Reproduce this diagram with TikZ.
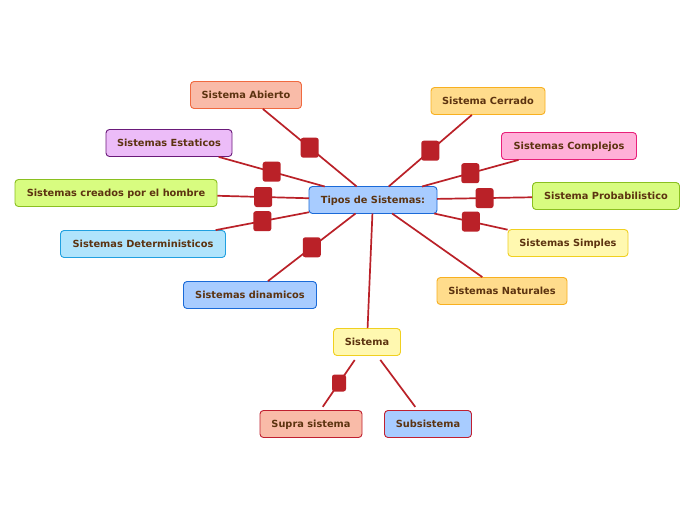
\documentclass[tikz,border=0pt]{standalone}
\usepackage{fontspec}
\setmainfont{DejaVu Sans}
\begin{document}
\begin{tikzpicture}[x=1pt,y=-1pt,
  txt/.style={font=\bfseries\fontsize{9.8}{11}\selectfont, text=brownish, text height=7.2pt, text depth=0pt},
  box/.style={txt, draw, rounded corners=3.5pt, line width=0.9pt, minimum height=27, inner sep=2pt, outer sep=0.4pt},
  conn/.style={draw=connred, line width=1.7pt},
  subconn/.style={conn, shorten <=5pt, shorten >=4pt},
  sq/.style={fill=connred, draw=none, rounded corners=2.5pt, minimum width=18, minimum height=20, inner sep=0pt, text height=, text depth=},
  sqs/.style={sq, minimum width=14, minimum height=17},
]
\definecolor{brownish}{HTML}{5C3310}
\definecolor{connred}{HTML}{BA2128}
\definecolor{bluef}{HTML}{A8CCFF}\definecolor{blued}{HTML}{1A6AD8}
\definecolor{salf}{HTML}{F9BBA8}\definecolor{sald}{HTML}{F06A40}
\definecolor{purf}{HTML}{ECBCF8}\definecolor{purd}{HTML}{6A1A7A}
\definecolor{grnf}{HTML}{D8FC80}\definecolor{grnd}{HTML}{8AC020}
\definecolor{cyf}{HTML}{B0E4FC}\definecolor{cyd}{HTML}{20A0E0}
\definecolor{orf}{HTML}{FFDC8C}\definecolor{ord}{HTML}{F8B020}
\definecolor{pkf}{HTML}{FFB0D8}\definecolor{pkd}{HTML}{E8207A}
\definecolor{yef}{HTML}{FFF8B0}\definecolor{yed}{HTML}{F0D020}
\definecolor{redd}{HTML}{C02030}
\useasboundingbox (0,0) rectangle (696,520);
\fill[white] (0,0) rectangle (696,520);

\node[box, fill=bluef, draw=blued, minimum width=128, outer sep=0pt] (c) at (373,200) {Tipos de Sistemas:};
\node[box, fill=salf, draw=sald, minimum width=111] (ab) at (246,95) {Sistema Abierto};
\node[box, fill=purf, draw=purd, minimum width=126] (es) at (169,143) {Sistemas Estaticos};
\node[box, fill=grnf, draw=grnd, minimum width=202] (cr) at (116,193) {Sistemas creados por el hombre};
\node[box, fill=cyf, draw=cyd, minimum width=165] (de) at (143,244) {Sistemas Deterministicos};
\node[box, fill=bluef, draw=blued, minimum width=133] (di) at (250,295) {Sistemas dinamicos};
\node[box, fill=orf, draw=ord, minimum width=114] (ce) at (488,101) {Sistema Cerrado};
\node[box, fill=pkf, draw=pkd, minimum width=135] (co) at (569,146) {Sistemas Complejos};
\node[box, fill=grnf, draw=grnd, minimum width=147] (pr) at (606,196) {Sistema Probabilistico};
\node[box, fill=yef, draw=yed, minimum width=120] (si) at (568,243) {Sistemas Simples};
\node[box, fill=orf, draw=ord, minimum width=130] (na) at (502,291) {Sistemas Naturales};
\node[box, fill=yef, draw=yed, minimum width=67] (s) at (367,342) {Sistema};
\node[box, fill=salf, draw=redd, minimum width=102] (su) at (311,424) {Supra sistema};
\node[box, fill=bluef, draw=redd, minimum width=87] (sb) at (428,424) {Subsistema};

\draw[conn] (c) -- node[sq] (q1) {} (ab);
\draw[conn] (c) -- node[sq] (q2) {} (es);
\draw[conn] (c) -- node[sq] (q3) {} (cr);
\draw[conn] (c) -- node[sq] (q4) {} (de);
\draw[conn] (c) -- node[sq] (q5) {} (di);
\draw[conn] (c) -- node[sq] (q6) {} (ce);
\draw[conn] (c) -- node[sq] (q7) {} (co);
\draw[conn] (c) -- node[sq] (q8) {} (pr);
\draw[conn] (c) -- node[sq] (q9) {} (si);
\draw[conn] (c) -- (na);
\draw[conn] (c) -- (s);
\draw[subconn] (s) -- node[sqs] (q10) {} (su);
\draw[subconn] (s) -- (sb);
\end{tikzpicture}
\end{document}
